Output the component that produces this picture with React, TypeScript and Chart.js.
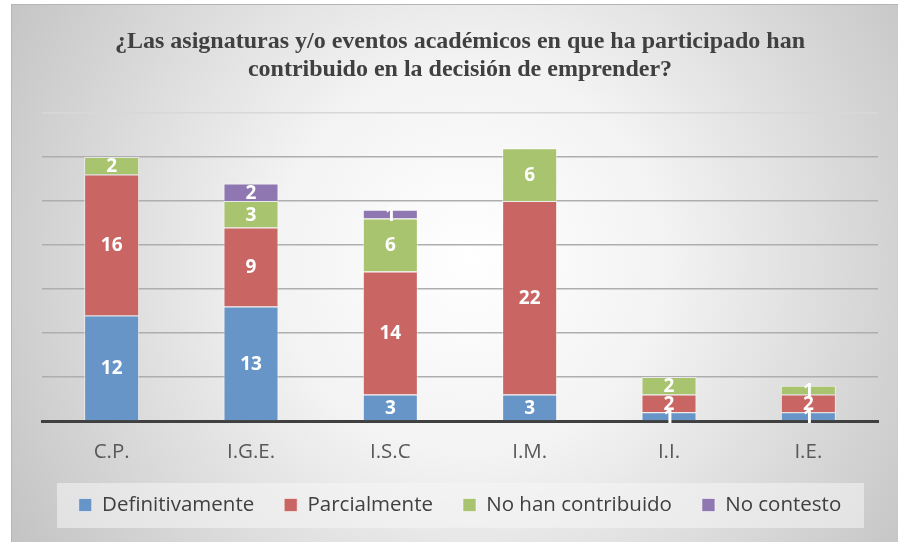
import React, { useEffect, useRef } from "react";
import { Chart, registerables } from "chart.js";

Chart.register(...registerables);

const categories = ["C.P.", "I.G.E.", "I.S.C", "I.M.", "I.I.", "I.E."];
const definitivamente = [12, 13, 3, 3, 1, 1];
const parcialmente = [16, 9, 14, 22, 2, 2];
const noHanContribuido = [2, 3, 6, 6, 2, 1];
const noContesto = [0, 2, 1, 0, 0, 0];
const titleLines = [
  "¿Las asignaturas y/o eventos académicos en que ha participado han",
  "contribuido en la decisión de emprender?",
];

const SANS = "'Open Sans', 'Noto Sans', sans-serif";

const backgroundPlugin = {
  id: "bgPlugin",
  beforeDraw(chart: any) {
    const { ctx, width, height } = chart;
    ctx.save();
    ctx.fillStyle = "#ffffff";
    ctx.fillRect(0, 0, width, height);
    const g = ctx.createRadialGradient(470, 260, 0, 470, 260, 560);
    g.addColorStop(0, "#ffffff");
    g.addColorStop(0.35, "#f3f3f3");
    g.addColorStop(1, "#c0c0c0");
    ctx.fillStyle = g;
    ctx.fillRect(11, 4, width - 11, height - 4);
    ctx.strokeStyle = "#b5b5b5";
    ctx.lineWidth = 1;
    ctx.beginPath();
    ctx.moveTo(11.5, height);
    ctx.lineTo(11.5, 4.5);
    ctx.lineTo(width, 4.5);
    ctx.stroke();
    // legend backdrop
    ctx.fillStyle = "rgba(245,245,245,0.55)";
    ctx.fillRect(57, 483, 807, 45);
    ctx.restore();
  },
};

const labelPlugin = {
  id: "stackLabels",
  afterDatasetsDraw(chart: any) {
    const { ctx } = chart;
    ctx.save();
    ctx.fillStyle = "#ffffff";
    ctx.font = `bold 19px ${SANS}`;
    ctx.textAlign = "center";
    ctx.textBaseline = "middle";
    chart.data.datasets.forEach((ds: any, i: number) => {
      const meta = chart.getDatasetMeta(i);
      meta.data.forEach((el: any, j: number) => {
        const v = ds.data[j];
        if (!v) return;
        const y = (el.y + el.base) / 2;
        ctx.fillText(String(v), el.x, y + 1);
      });
    });
    ctx.restore();
  },
};

export default function App() {
  const ref = useRef<HTMLCanvasElement>(null);
  useEffect(() => {
    if (!ref.current) return;
    const mk = (label: string, data: number[], color: string) => ({
      label,
      data,
      backgroundColor: color,
      borderColor: "rgba(255,255,255,0.55)",
      borderWidth: 1,
      categoryPercentage: 0.395,
      barPercentage: 1,
    });
    const chart = new Chart(ref.current, {
      type: "bar",
      data: {
        labels: categories,
        datasets: [
          mk("Definitivamente", definitivamente, "#6895c8"),
          mk("Parcialmente", parcialmente, "#c96664"),
          mk("No han contribuido", noHanContribuido, "#a8c46e"),
          mk("No contesto", noContesto, "#8f78b1"),
        ],
      },
      options: {
        responsive: false,
        animation: false,
        layout: { padding: { left: 42, right: 20, top: 28, bottom: 16.75 } },
        plugins: {
          title: {
            display: true,
            text: titleLines,
            color: "#404040",
            font: { family: "'Liberation Serif', 'Times New Roman', serif", size: 24, weight: "bold", lineHeight: 28 / 24 },
            padding: { top: 0, bottom: 29 },
          },
          legend: {
            position: "bottom",
            labels: {
              color: "#404040",
              font: { family: SANS, size: 20.5 },
              boxWidth: 13,
              boxHeight: 13,
              padding: 30,
            },
          },
          tooltip: { enabled: false },
        },
        scales: {
          x: {
            stacked: true,
            grid: { display: false, drawTicks: false },
            border: { display: true, color: "#404040", width: 3 },
            ticks: { color: "#595959", font: { family: SANS, size: 20.5 }, padding: 19 },
            afterFit: (scale: any) => {
              scale.height = 43.75;
            },
          },
          y: {
            stacked: true,
            min: 0,
            max: 35,
            ticks: { display: false, stepSize: 5 },
            border: { display: false },
            grid: {
              drawTicks: false,
              color: (c: any) => (c.tick && c.tick.value === 35 ? "#d8d8d8" : "#aeaeae"),
              lineWidth: 1.5,
            },
          },
        },
      },
      plugins: [backgroundPlugin, labelPlugin],
    } as any);
    return () => chart.destroy();
  }, []);
  return (
    <div style={{ position: "absolute", left: 0, top: 0, width: 898, height: 542 }}>
      <canvas ref={ref} width={898} height={542} />
    </div>
  );
}
